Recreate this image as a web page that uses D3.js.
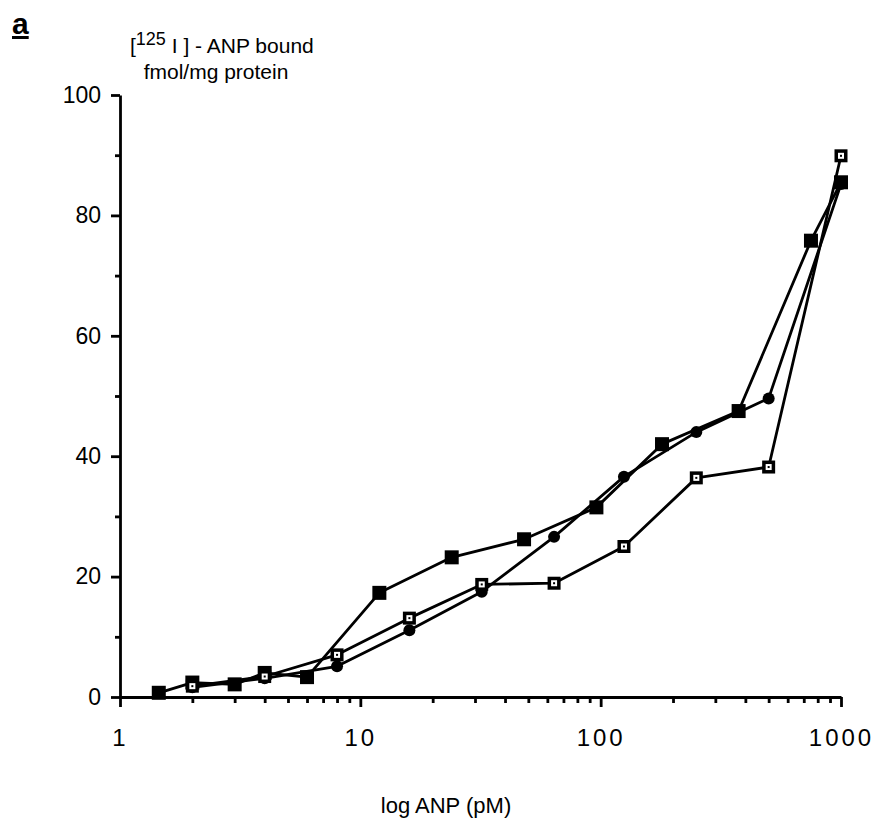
<!DOCTYPE html>
<html>
<head>
<meta charset="utf-8">
<script src="https://cdn.jsdelivr.net/npm/d3@7"></script>
<style>
    body { margin: 0; background: #fff; }
    svg { display: block; font-family: "Liberation Sans", Arial, sans-serif; }
</style>
</head>
<body>
<svg id="drawing_region"></svg>
<script>
// concentrations (pM) and bound values
const concFilled = [1.45, 2, 3, 4, 6, 12, 24, 48, 96, 180, 375, 750, 1000];
const boundFilled = [0.7, 2.4, 2.1, 4.0, 3.3, 17.3, 23.2, 26.2, 31.5, 42.0, 47.5, 75.8, 85.5];

const concOpen = [2, 4, 8, 16, 32, 64, 125, 250, 500, 1000];
const boundOpen = [1.8, 3.4, 7.0, 13.1, 18.7, 18.9, 25.0, 36.4, 38.2, 89.9];

const concCircle = [2, 4, 8, 16, 32, 64, 125, 250, 500, 1000];
const boundCircle = [1.6, 3.1, 5.1, 11.1, 17.5, 26.6, 36.6, 44.0, 49.6, 85.2];

const xMajorTicks = [1, 10, 100, 1000];
const yMajorTicks = [0, 20, 40, 60, 80, 100];
const yMinorTicks = [10, 30, 50, 70, 90];

var config = {
    parent: '#drawing_region',
    width: 882,
    height: 827,
    margin: {top: 95, right: 41, bottom: 130, left: 120}
};

class BindingChart {

    constructor(config) {
        this.config = config;
        this.init();
    }

    init() {
        let self = this;

        self.svg = d3.select(self.config.parent)
            .attr('width', self.config.width)
            .attr('height', self.config.height);

        self.inner_width = self.config.width - self.config.margin.left - self.config.margin.right;
        self.inner_height = self.config.height - self.config.margin.top - self.config.margin.bottom;

        // panel letter
        self.svg.append("text")
            .attr("x", 12)
            .attr("y", 34)
            .attr("font-size", "30px")
            .attr("font-weight", "bold")
            .attr("text-decoration", "underline")
            .text("a");

        // y label, two lines
        let t1 = self.svg.append("text")
            .attr("x", 130)
            .attr("y", 53)
            .attr("font-size", "21px");
        t1.append("tspan").text("[");
        t1.append("tspan").attr("dy", -8).attr("font-size", "18px").text("125");
        t1.append("tspan").attr("dy", 8).text(" I ] - ANP bound");

        self.svg.append("text")
            .attr("x", 216)
            .attr("y", 79)
            .attr("text-anchor", "middle")
            .attr("font-size", "21px")
            .text("fmol/mg protein");

        // x label
        self.svg.append("text")
            .attr("x", 446)
            .attr("y", 813)
            .attr("text-anchor", "middle")
            .attr("font-size", "22px")
            .text("log ANP (pM)");
    }

    update() {
        let self = this;
        let m = self.config.margin;

        self.xScale = d3.scaleLog()
            .domain([1, 1000])
            .range([m.left, m.left + self.inner_width]);
        self.yScale = d3.scaleLinear()
            .domain([0, 100])
            .range([m.top + self.inner_height, m.top]);

        // minor ticks 2..9 in each decade
        let xMinor = [];
        xMajorTicks.slice(0, 3).forEach(d => {
            for (let k = 2; k <= 9; k++) xMinor.push(d * k);
        });
        self.xMinor = xMinor;

        self.series = [
            {type: "filled", data: concFilled.map((c, i) => ({c: c, v: boundFilled[i]}))},
            {type: "circle", data: concCircle.map((c, i) => ({c: c, v: boundCircle[i]}))},
            {type: "open", data: concOpen.map((c, i) => ({c: c, v: boundOpen[i]}))}
        ];

        self.line = d3.line()
            .x(d => self.xScale(d.c))
            .y(d => self.yScale(d.v));

        self.render();
    }

    render() {
        let self = this;
        let m = self.config.margin;
        let y0 = m.top + self.inner_height;

        // x axis: minor ticks first, then majors with labels
        self.svg.append("g")
            .attr("transform", `translate(0, ${y0})`)
            .call(d3.axisBottom(self.xScale).tickValues(self.xMinor).tickSize(6).tickSizeOuter(0).tickFormat(""))
            .call(g => g.select(".domain").remove());
        let xa = self.svg.append("g")
            .attr("transform", `translate(0, ${y0})`)
            .call(d3.axisBottom(self.xScale).tickValues(xMajorTicks).tickSize(10).tickSizeOuter(0)
                .tickPadding(22).tickFormat(d3.format("d")));
        xa.selectAll("text")
            .attr("font-size", "24px")
            .attr("letter-spacing", "3px")
            .attr("fill", "#000")
            .attr("font-family", "Liberation Sans, Arial, sans-serif");

        // y axis
        self.svg.append("g")
            .attr("transform", `translate(${m.left}, 0)`)
            .call(d3.axisLeft(self.yScale).tickValues(yMinorTicks).tickSize(5).tickSizeOuter(0).tickFormat(""))
            .call(g => g.select(".domain").remove());
        let ya = self.svg.append("g")
            .attr("transform", `translate(${m.left}, 0)`)
            .call(d3.axisLeft(self.yScale).tickValues(yMajorTicks).tickSize(9).tickSizeOuter(0).tickPadding(10));
        ya.selectAll("text")
            .attr("font-size", "23px")
            .attr("fill", "#000")
            .attr("font-family", "Liberation Sans, Arial, sans-serif");

        self.svg.selectAll(".tick line, .domain")
            .attr("stroke", "#000")
            .attr("stroke-width", 2.8);

        // lines
        self.svg.append("g")
            .selectAll("path")
            .data(self.series)
            .join("path")
            .attr("fill", "none")
            .attr("stroke", "#000")
            .attr("stroke-width", 2.8)
            .attr("stroke-linejoin", "round")
            .attr("d", d => self.line(d.data));

        // markers
        self.series.forEach(s => {
            let g = self.svg.append("g");
            let pts = g.selectAll("g")
                .data(s.data)
                .join("g")
                .attr("transform", d => `translate(${self.xScale(d.c)}, ${self.yScale(d.v)})`);
            if (s.type === "filled") {
                pts.append("rect")
                    .attr("x", -7).attr("y", -7)
                    .attr("width", 14).attr("height", 14)
                    .attr("fill", "#000");
            } else if (s.type === "circle") {
                pts.append("circle")
                    .attr("r", 6)
                    .attr("fill", "#000");
            } else {
                pts.append("rect")
                    .attr("x", -6.5).attr("y", -6.5)
                    .attr("width", 13).attr("height", 13)
                    .attr("fill", "#000");
                pts.append("rect")
                    .attr("x", -3).attr("y", -3)
                    .attr("width", 6).attr("height", 6)
                    .attr("fill", "#fff");
                pts.append("rect")
                    .attr("x", -1).attr("y", -1)
                    .attr("width", 2).attr("height", 2)
                    .attr("fill", "#000");
            }
        });
    }
}

const chart = new BindingChart(config);
chart.update();
</script>
</body>
</html>
